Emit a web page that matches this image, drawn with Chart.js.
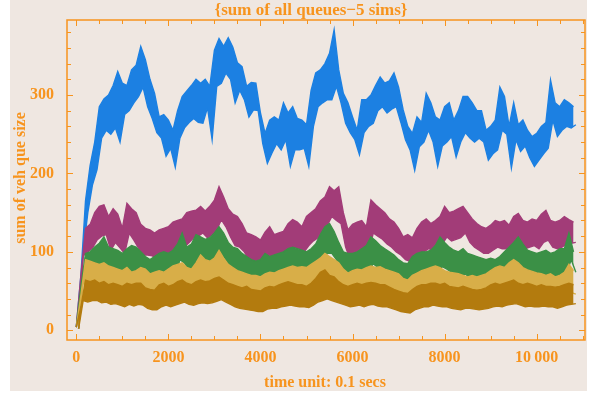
<!DOCTYPE html>
<html>
<head>
<meta charset="utf-8">
<script src="https://cdn.jsdelivr.net/npm/chart.js@4.4.1/dist/chart.umd.min.js"></script>
<style>
  html, body { margin: 0; padding: 0; background: #ffffff; }
  #wrap { width: 596px; height: 396px; position: relative; }
</style>
</head>
<body>
<div id="wrap"><canvas id="queueChart" width="596" height="396"></canvas></div>
<script>
// samples every 50 time units, starting at 0
const timeStep = 50;

const xMajorTicks = [0, 2000, 4000, 6000, 8000, 10000];
const yMajorTicks = [0, 100, 200, 300];

// sum of queues, one list per simulation run (high/low of the noise band)
const sim1 = [
  4, 2, 70, 100, 165, 150, 210, 185, 240, 205, 285, 245, 295, 255, 300, 250, 312, 258, 330, 240,
  315, 275, 312, 280, 332, 290, 338, 298, 362, 310, 345, 285, 320, 270, 302, 252, 272, 245, 275, 222,
  268, 232, 255, 208, 280, 245, 298, 258, 305, 265, 312, 270, 320, 265, 315, 264, 320, 284, 311, 243,
  357, 311, 372, 315, 362, 328, 373, 320, 361, 290, 341, 306, 336, 294, 311, 272, 316, 281, 315, 280,
  277, 238, 251, 213, 268, 226, 272, 238, 268, 230, 290, 243, 277, 209, 285, 230, 270, 230, 268, 232,
  262, 209, 306, 260, 328, 285, 332, 290, 340, 294, 353, 294, 383, 311, 332, 290, 302, 264, 290, 252,
  272, 243, 255, 224, 294, 252, 294, 260, 300, 264, 312, 280, 323, 285, 315, 277, 318, 282, 328, 285,
  310, 265, 281, 243, 260, 230, 251, 204, 272, 234, 265, 240, 302, 255, 290, 240, 272, 209, 268, 235,
  285, 240, 290, 247, 268, 221, 280, 240, 298, 252, 298, 245, 290, 240, 280, 245, 280, 240, 255, 217,
  260, 225, 268, 230, 310, 255, 298, 250, 260, 207, 290, 243, 262, 228, 268, 235, 255, 220, 247, 209,
  251, 217, 260, 225, 265, 232, 319, 268, 290, 247, 285, 255, 294, 260, 290, 258, 285, 262
];
const sim2 = [
  4, 2, 70, 95, 130, 100, 135, 105, 150, 115, 158, 120, 160, 122, 145, 102, 155, 112, 148, 105,
  130, 98, 162, 124, 155, 115, 150, 105, 135, 96, 130, 96, 128, 95, 124, 90, 128, 92, 130, 96,
  132, 100, 138, 104, 140, 106, 142, 106, 150, 112, 152, 118, 153, 120, 158, 124, 152, 118, 158, 122,
  166, 128, 183, 141, 170, 132, 155, 119, 148, 108, 145, 106, 136, 100, 124, 90, 122, 88, 119, 85,
  115, 90, 125, 94, 132, 96, 122, 92, 124, 92, 126, 96, 136, 102, 141, 106, 138, 104, 132, 100,
  145, 108, 150, 114, 155, 118, 165, 128, 170, 134, 183, 145, 178, 140, 183, 136, 150, 106, 128, 90,
  135, 100, 138, 102, 140, 104, 132, 100, 166, 124, 160, 120, 155, 116, 150, 110, 142, 106, 138, 100,
  130, 96, 119, 90, 122, 88, 118, 86, 130, 94, 138, 100, 142, 104, 136, 102, 140, 104, 145, 110,
  158, 119, 150, 114, 152, 116, 155, 118, 158, 124, 150, 112, 142, 106, 136, 102, 132, 98, 130, 98,
  134, 102, 140, 106, 138, 104, 140, 104, 134, 98, 145, 110, 149, 115, 140, 104, 138, 106, 142, 108,
  140, 104, 148, 112, 153, 115, 140, 106, 138, 104, 140, 106, 145, 110, 141, 111, 138, 112
];
const sim3 = [
  4, 2, 55, 72, 98, 70, 100, 72, 106, 74, 111, 76, 119, 82, 106, 74, 104, 70, 102, 68,
  98, 64, 104, 70, 108, 72, 106, 70, 100, 66, 94, 60, 90, 60, 94, 62, 98, 66, 100, 66,
  98, 66, 102, 70, 110, 90, 124, 86, 106, 76, 110, 80, 122, 88, 119, 85, 116, 84, 118, 86,
  124, 90, 132, 98, 124, 90, 112, 80, 106, 76, 104, 72, 98, 66, 94, 64, 90, 60, 88, 58,
  90, 56, 98, 66, 94, 64, 96, 66, 98, 66, 100, 68, 104, 72, 106, 74, 104, 72, 102, 70,
  100, 68, 104, 72, 110, 78, 122, 88, 132, 98, 136, 98, 126, 90, 112, 80, 100, 70, 98, 68,
  98, 68, 100, 70, 104, 72, 108, 76, 119, 85, 114, 80, 108, 76, 104, 72, 100, 70, 96, 66,
  90, 62, 86, 60, 85, 58, 94, 64, 98, 68, 100, 68, 100, 70, 102, 70, 108, 76, 119, 81,
  112, 78, 106, 74, 102, 70, 100, 68, 104, 72, 98, 66, 96, 66, 94, 64, 92, 62, 90, 60,
  92, 60, 90, 62, 94, 66, 100, 70, 106, 74, 112, 80, 119, 85, 110, 76, 102, 70, 100, 68,
  98, 68, 100, 66, 102, 70, 98, 68, 100, 70, 104, 72, 104, 74, 124, 90, 100, 74
];
const sim4 = [
  4, 2, 45, 60, 90, 58, 88, 56, 86, 55, 84, 54, 86, 56, 82, 52, 80, 51, 78, 48,
  76, 46, 80, 50, 74, 44, 76, 46, 80, 50, 78, 46, 72, 42, 74, 44, 76, 46, 74, 45,
  78, 48, 82, 52, 84, 54, 86, 52, 80, 50, 78, 50, 86, 54, 96, 58, 90, 56, 88, 56,
  92, 58, 102, 62, 92, 56, 84, 52, 80, 48, 76, 44, 74, 40, 72, 40, 70, 38, 70, 36,
  68, 35, 72, 40, 74, 42, 73, 41, 76, 44, 78, 46, 80, 48, 82, 49, 80, 48, 81, 48,
  80, 47, 84, 50, 88, 52, 92, 54, 98, 58, 94, 56, 90, 52, 86, 50, 78, 46, 73, 42,
  76, 44, 78, 46, 77, 45, 80, 47, 82, 48, 80, 46, 81, 47, 78, 45, 76, 44, 74, 40,
  72, 38, 66, 34, 64, 32, 70, 38, 73, 42, 76, 44, 78, 46, 80, 48, 82, 48, 80, 46,
  76, 44, 74, 42, 73, 42, 72, 40, 70, 38, 68, 38, 70, 40, 68, 38, 70, 40, 72, 42,
  76, 44, 80, 46, 82, 48, 80, 46, 86, 50, 90, 52, 86, 50, 80, 46, 77, 44, 75, 43,
  73, 42, 72, 42, 70, 40, 72, 42, 68, 40, 70, 42, 74, 44, 84, 48, 76, 46
];
const sim5 = [
  4, 2, 30, 38, 64, 36, 62, 38, 64, 38, 60, 35, 62, 36, 58, 33, 60, 34, 58, 32,
  56, 30, 60, 33, 58, 31, 60, 33, 60, 32, 54, 28, 52, 26, 51, 26, 58, 30, 60, 32,
  56, 30, 58, 32, 62, 34, 64, 36, 60, 33, 58, 32, 62, 34, 64, 35, 62, 34, 63, 35,
  66, 37, 68, 39, 64, 36, 60, 33, 58, 30, 56, 28, 54, 27, 56, 26, 52, 25, 51, 24,
  50, 24, 54, 27, 56, 28, 55, 28, 58, 30, 60, 31, 62, 32, 60, 31, 58, 30, 58, 30,
  56, 29, 60, 32, 66, 36, 74, 38, 77, 40, 70, 38, 68, 36, 62, 34, 58, 32, 56, 30,
  58, 31, 60, 32, 58, 30, 60, 32, 61, 33, 60, 31, 58, 30, 58, 30, 55, 28, 52, 26,
  50, 24, 48, 23, 47, 22, 52, 26, 56, 28, 58, 30, 58, 30, 60, 32, 60, 31, 58, 30,
  60, 30, 56, 28, 55, 27, 54, 26, 56, 28, 54, 28, 52, 27, 51, 26, 52, 27, 54, 28,
  58, 30, 60, 31, 58, 30, 60, 32, 62, 33, 64, 34, 60, 32, 58, 30, 60, 31, 58, 30,
  56, 30, 58, 31, 56, 30, 56, 30, 55, 28, 56, 30, 58, 32, 60, 33, 58, 34
];

const seriesColors = ['#1c80e2', '#a23c78', '#3b9046', '#d8ae48', '#b37b0e'];
const orange = '#f7941e';
const labelFont = "'Liberation Serif'";

// even entries are the band tops, odd entries the band bottoms
function bandEdge(values, parity) {
  const pts = [];
  values.forEach((v, i) => {
    if (i % 2 === parity) pts.push({ x: i * timeStep, y: v });
  });
  return pts;
}

// beige panel behind everything
const panelBg = {
  id: 'panelBg',
  beforeDraw(chart) {
    const ctx = chart.ctx;
    ctx.save();
    ctx.fillStyle = '#efe7e1';
    ctx.fillRect(10, 0, 577, 391);
    ctx.restore();
  }
};

// Mathematica style frame with inward ticks on all four sides, plus titles
const frame = {
  id: 'frame',
  afterDraw(chart) {
    const ctx = chart.ctx;
    const a = chart.chartArea;
    const xs = chart.scales.x;
    const ys = chart.scales.y;
    ctx.save();
    ctx.strokeStyle = orange;
    ctx.lineWidth = 1.5;
    ctx.strokeRect(a.left, a.top, a.right - a.left, a.bottom - a.top);

    ctx.lineWidth = 1;
    ctx.beginPath();
    for (let v = 0; v <= xs.max; v += 500) {
      const px = Math.round(xs.getPixelForValue(v)) + 0.5;
      const len = xMajorTicks.includes(v) ? 6 : 4;
      ctx.moveTo(px, a.bottom); ctx.lineTo(px, a.bottom - len);
      ctx.moveTo(px, a.top); ctx.lineTo(px, a.top + len);
    }
    for (let v = 0; v <= ys.max; v += 20) {
      const py = Math.round(ys.getPixelForValue(v)) + 0.5;
      const len = yMajorTicks.includes(v) ? 6 : 4;
      ctx.moveTo(a.left, py); ctx.lineTo(a.left + len, py);
      ctx.moveTo(a.right, py); ctx.lineTo(a.right - len, py);
    }
    ctx.stroke();

    ctx.fillStyle = orange;
    ctx.font = 'bold 17px ' + labelFont;
    ctx.textAlign = 'center';
    ctx.textBaseline = 'alphabetic';
    ctx.fillText('{sum of all queues\u22125 sims}', 311, 15);

    ctx.font = 'bold 16px ' + labelFont;
    ctx.fillText('time unit: 0.1 secs', 325, 387);

    ctx.translate(25, 178);
    ctx.rotate(-Math.PI / 2);
    ctx.fillText('sum of veh que size', 0, 0);
    ctx.restore();
  }
};

const names = ['sim 1', 'sim 2', 'sim 3', 'sim 4', 'sim 5'];
const allSims = [sim1, sim2, sim3, sim4, sim5];

// each run is drawn as a noise band: top edge filled down to its bottom edge
const datasets = [];
allSims.forEach((vals, i) => {
  const common = {
    borderColor: seriesColors[i],
    backgroundColor: seriesColors[i],
    borderWidth: 1.4,
    pointRadius: 0,
    tension: 0,
    order: 5 - i
  };
  datasets.push(Object.assign({ label: names[i] + ' high', data: bandEdge(vals, 0), fill: '+1' }, common));
  datasets.push(Object.assign({ label: names[i] + ' low', data: bandEdge(vals, 1), fill: false }, common));
});

new Chart(document.getElementById('queueChart'), {
  type: 'line',
  data: { datasets },
  options: {
    responsive: false,
    animation: false,
    events: [],
    layout: { padding: { left: 10, top: 20, right: 11, bottom: 11 } },
    plugins: {
      legend: { display: false },
      tooltip: { enabled: false },
      title: { display: false },
      filler: { drawTime: 'beforeDatasetDraw' }
    },
    scales: {
      x: {
        type: 'linear',
        min: -202,
        max: 11049,
        grid: { display: false },
        border: { display: false },
        afterBuildTicks: (s) => { s.ticks = xMajorTicks.map(v => ({ value: v })); },
        afterFit: (s) => { s.height = 45; },
        ticks: {
          color: orange,
          padding: 0,
          maxRotation: 0,
          font: { family: 'Liberation Serif', size: 16, weight: 'bold' },
          callback: (v) => v >= 10000 ? '10\u2009000' : String(v)
        }
      },
      y: {
        type: 'linear',
        min: -12.4,
        max: 395.6,
        grid: { display: false },
        border: { display: false },
        afterBuildTicks: (s) => { s.ticks = yMajorTicks.map(v => ({ value: v })); },
        afterFit: (s) => { s.width = 57; },
        ticks: {
          color: orange,
          padding: 5,
          font: { family: 'Liberation Serif', size: 16, weight: 'bold' }
        }
      }
    }
  },
  plugins: [panelBg, frame]
});
</script>
</body>
</html>
